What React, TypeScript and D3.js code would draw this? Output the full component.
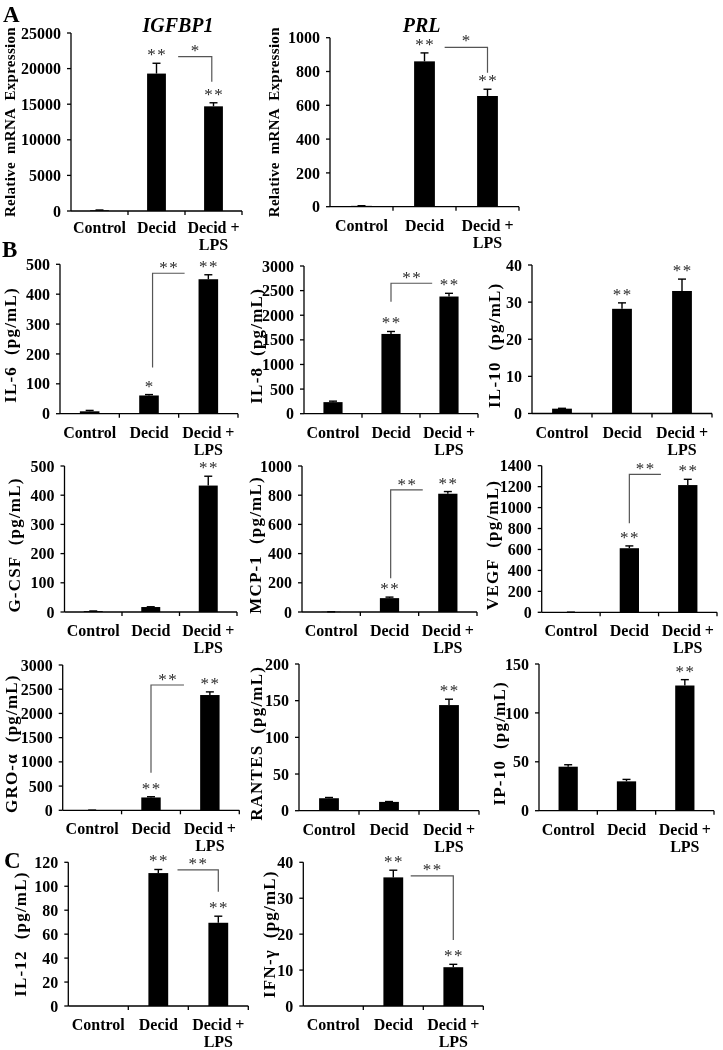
import React from 'react';
import * as d3 from 'd3';

// ---------- DATA ----------
const categories = ['Control', 'Decid', 'Decid +|LPS'];

const igfbp1Values = [100, 19300, 14700];
const igfbp1Errors = [40, 1450, 500];
const igfbp1Ticks = [0, 5000, 10000, 15000, 20000, 25000];
const igfbp1Stars = ['', '**', '**'];

const prlValues = [5, 860, 655];
const prlErrors = [1, 50, 40];
const prlTicks = [0, 200, 400, 600, 800, 1000];
const prlStars = ['', '**', '**'];

const il6Values = [8, 61, 450];
const il6Errors = [3, 3, 15];
const il6Ticks = [0, 100, 200, 300, 400, 500];
const il6Stars = ['', '*', '**'];

const il8Values = [235, 1620, 2380];
const il8Errors = [20, 50, 65];
const il8Ticks = [0, 500, 1000, 1500, 2000, 2500, 3000];
const il8Stars = ['', '**', '**'];

const il10Values = [1.3, 28.2, 33];
const il10Errors = [0.1, 1.6, 3.2];
const il10Ticks = [0, 10, 20, 30, 40];
const il10Stars = ['', '**', '**'];

const gcsfValues = [3, 17, 433];
const gcsfErrors = [0.5, 1, 32];
const gcsfTicks = [0, 100, 200, 300, 400, 500];
const gcsfStars = ['', '', '**'];

const mcp1Values = [1, 95, 810];
const mcp1Errors = [0.5, 7, 15];
const mcp1Ticks = [0, 200, 400, 600, 800, 1000];
const mcp1Stars = ['', '**', '**'];

const vegfValues = [1, 612, 1215];
const vegfErrors = [0.5, 22, 55];
const vegfTicks = [0, 200, 400, 600, 800, 1000, 1200, 1400];
const vegfStars = ['', '**', '**'];

const groValues = [3, 265, 2380];
const groErrors = [1, 15, 65];
const groTicks = [0, 500, 1000, 1500, 2000, 2500, 3000];
const groStars = ['', '**', '**'];

const rantesValues = [17, 12, 144];
const rantesErrors = [1, 0.5, 8];
const rantesTicks = [0, 50, 100, 150, 200];
const rantesStars = ['', '', '**'];

const ip10Values = [45, 30, 128];
const ip10Errors = [2, 2, 6];
const ip10Ticks = [0, 50, 100, 150];
const ip10Stars = ['', '', '**'];

const il12Values = [0, 111, 69.5];
const il12Errors = [0, 3, 5.5];
const il12Ticks = [0, 20, 40, 60, 80, 100, 120];
const il12Stars = ['', '**', '**'];

const ifngValues = [0, 35.8, 10.8];
const ifngErrors = [0, 2, 0.8];
const ifngTicks = [0, 10, 20, 30, 40];
const ifngStars = ['', '**', '**'];

// significance brackets: top = value of horizontal segment, end = value where vertical segment ends
const igfbp1Bracket = { kind: 'drop', top: 21670, end: 18160, label: '*' };
const prlBracket = { kind: 'drop', top: 943, end: 793, label: '*' };
const il6Bracket = { kind: 'rise', top: 470, end: 155, label: '**' };
const il8Bracket = { kind: 'rise', top: 2650, end: 2275, label: '**' };
const mcp1Bracket = { kind: 'rise', top: 836, end: 231, label: '**' };
const vegfBracket = { kind: 'rise', top: 1318, end: 850, label: '**' };
const groBracket = { kind: 'rise', top: 2587, end: 776, label: '**' };
const il12Bracket = { kind: 'drop', top: 113.6, end: 95.4, label: '**' };
const ifngBracket = { kind: 'drop', top: 36.2, end: 18.4, label: '**' };

const panels = [
  { yLabel: 'Relative  mRNA  Expression', title: 'IGFBP1', values: igfbp1Values, errors: igfbp1Errors, ticks: igfbp1Ticks, stars: igfbp1Stars, bracket: igfbp1Bracket },
  { yLabel: 'Relative  mRNA  Expression', title: 'PRL', values: prlValues, errors: prlErrors, ticks: prlTicks, stars: prlStars, bracket: prlBracket },
  { yLabel: 'IL-6  (pg/mL)', values: il6Values, errors: il6Errors, ticks: il6Ticks, stars: il6Stars, bracket: il6Bracket },
  { yLabel: 'IL-8  (pg/mL)', values: il8Values, errors: il8Errors, ticks: il8Ticks, stars: il8Stars, bracket: il8Bracket },
  { yLabel: 'IL-10  (pg/mL)', values: il10Values, errors: il10Errors, ticks: il10Ticks, stars: il10Stars },
  { yLabel: 'G-CSF  (pg/mL)', values: gcsfValues, errors: gcsfErrors, ticks: gcsfTicks, stars: gcsfStars },
  { yLabel: 'MCP-1  (pg/mL)', values: mcp1Values, errors: mcp1Errors, ticks: mcp1Ticks, stars: mcp1Stars, bracket: mcp1Bracket },
  { yLabel: 'VEGF  (pg/mL)', values: vegfValues, errors: vegfErrors, ticks: vegfTicks, stars: vegfStars, bracket: vegfBracket },
  { yLabel: 'GRO-\u03b1  (pg/mL)', values: groValues, errors: groErrors, ticks: groTicks, stars: groStars, bracket: groBracket },
  { yLabel: 'RANTES  (pg/mL)', values: rantesValues, errors: rantesErrors, ticks: rantesTicks, stars: rantesStars },
  { yLabel: 'IP-10  (pg/mL)', values: ip10Values, errors: ip10Errors, ticks: ip10Ticks, stars: ip10Stars },
  { yLabel: 'IL-12  (pg/mL)', values: il12Values, errors: il12Errors, ticks: il12Ticks, stars: il12Stars, bracket: il12Bracket },
  { yLabel: 'IFN-\u03b3  (pg/mL)', values: ifngValues, errors: ifngErrors, ticks: ifngTicks, stars: ifngStars, bracket: ifngBracket },
];

// ---------- LAYOUT ----------
const layouts = [
  { axisX: 71, xEnd: 242, yTop: 33, y0: 211, labelX: 15, labelSize: 15, labelSpacing: 0.3, labelDy: 0, titleX: 178, titleY: 31.7, bx1: 0.38, bx2: -0.03, catDy: 22 },
  { axisX: 330, xEnd: 519, yTop: 37.7, y0: 206.7, labelX: 279, labelSize: 15, labelSpacing: 0.3, labelDy: 0, titleX: 421.7, titleY: 31.7, bx1: 0.32, bx2: 0, catDy: 24 },
  { axisX: 60, xEnd: 238, yTop: 264.3, y0: 413.7, labelX: 16, labelSize: 17, labelSpacing: 1.2, labelDy: 6, bx1: 0.06, bx2: -0.4, catDy: 24 },
  { axisX: 304, xEnd: 478, yTop: 266, y0: 413.7, labelX: 262, labelSize: 17, labelSpacing: 1.2, labelDy: 6, bx1: 0, bx2: -0.29, catDy: 24 },
  { axisX: 532, xEnd: 712, yTop: 265, y0: 413.5, labelX: 500, labelSize: 17, labelSpacing: 1.2, labelDy: 6, catDy: 24 },
  { axisX: 64.5, xEnd: 237, yTop: 466, y0: 612, labelX: 20, labelSize: 17, labelSpacing: 1.2, labelDy: 6, catDy: 24 },
  { axisX: 302, xEnd: 477, yTop: 466, y0: 612, labelX: 261, labelSize: 17, labelSpacing: 1.2, labelDy: 6, bx1: 0.02, bx2: -0.43, catDy: 24 },
  { axisX: 541.7, xEnd: 717, yTop: 465.7, y0: 612.3, labelX: 498, labelSize: 17, labelSpacing: 1.2, labelDy: 6, bx1: 0, bx2: -0.46, catDy: 24 },
  { axisX: 62.7, xEnd: 239.3, yTop: 665, y0: 810.3, labelX: 17, labelSize: 17, labelSpacing: 1.2, labelDy: 6, bx1: 0, bx2: -0.44, catDy: 24 },
  { axisX: 299, xEnd: 479, yTop: 664, y0: 810.7, labelX: 262, labelSize: 17, labelSpacing: 1.2, labelDy: 6, catDy: 24 },
  { axisX: 539, xEnd: 714, yTop: 664, y0: 810.7, labelX: 505, labelSize: 17, labelSpacing: 1.2, labelDy: 6, catDy: 24 },
  { axisX: 68.3, xEnd: 248.3, yTop: 862.3, y0: 1006, labelX: 26, labelSize: 17, labelSpacing: 1.2, labelDy: 0, bx1: 0.32, bx2: 0, catDy: 24 },
  { axisX: 303.3, xEnd: 483.3, yTop: 862.3, y0: 1006, labelX: 275, labelSize: 17, labelSpacing: 1.2, labelDy: 0, bx1: 0.29, bx2: 0, catDy: 24 },
];

const panelLetters = [
  { text: 'A', x: 3, y: 22 },
  { text: 'B', x: 2, y: 257 },
  { text: 'C', x: 4, y: 868 },
];

const FONT = "'Liberation Serif', 'Times New Roman', serif";
const STAR_COLOR = '#2a2a2a';
const STAR_SIZE = 17;

function Panel({ p, L }: { p: any; L: any }) {
  const x = d3.scaleBand().domain(categories).range([L.axisX, L.xEnd]).paddingInner(0).paddingOuter(0);
  const y = d3.scaleLinear().domain([0, d3.max(p.ticks) as number]).range([L.y0, L.yTop]);
  const bw = x.bandwidth();
  const barW = bw * 0.33;
  const cx = (c: string) => (x(c) as number) + bw / 2;
  const yMid = (L.y0 + L.yTop) / 2 + L.labelDy;

  let bracketEl = null;
  if (p.bracket) {
    const b = p.bracket;
    const cD = cx(categories[1]);
    const cL = cx(categories[2]);
    const x1 = cD + L.bx1 * bw;
    const x2 = cL + L.bx2 * bw;
    const yt = y(b.top);
    const ye = y(b.end);
    const d = b.kind === 'drop' ? `M${x1},${yt}H${x2}V${ye}` : `M${x1},${ye}V${yt}H${x2}`;
    bracketEl = (
      <g>
        <path d={d} fill="none" stroke="#555" strokeWidth={1.2} />
        <text x={(x1 + x2) / 2 + 0.7} y={yt - (b.kind === 'drop' ? 1 : 0)} textAnchor="middle" fontSize={STAR_SIZE} fill={STAR_COLOR} letterSpacing={1.5} fontFamily={FONT}>{b.label}</text>
      </g>
    );
  }

  return (
    <g fontFamily={FONT}>
      {categories.map((c, i) => {
        const v = p.values[i];
        const e = p.errors[i];
        const c0 = cx(c);
        return (
          <g key={c}>
            <rect x={c0 - barW / 2} y={y(v)} width={barW} height={L.y0 - y(v)} fill="#000" />
            {e > 0 && (
              <g stroke="#000" strokeWidth={1.4}>
                <line x1={c0} x2={c0} y1={y(v)} y2={y(v + e)} />
                <line x1={c0 - 4} x2={c0 + 4} y1={y(v + e)} y2={y(v + e)} />
              </g>
            )}
            {p.stars[i] && (
              <text x={c0 + 0.7} y={y(v + e) - 3} textAnchor="middle" fontSize={STAR_SIZE} fill={STAR_COLOR} letterSpacing={1.5}>{p.stars[i]}</text>
            )}
          </g>
        );
      })}
      {bracketEl}
      <line x1={L.axisX} x2={L.axisX} y1={L.yTop} y2={L.y0} stroke="#000" strokeWidth={1.3} />
      {p.ticks.map((t: number) => (
        <g key={t}>
          <line x1={L.axisX - 4} x2={L.axisX} y1={y(t)} y2={y(t)} stroke="#000" strokeWidth={1.3} />
          <text x={L.axisX - 10} y={y(t)} dy="0.35em" textAnchor="end" fontSize={16} fontWeight="bold" fill="#000">{String(t)}</text>
        </g>
      ))}
      <line x1={L.axisX} x2={L.xEnd} y1={L.y0} y2={L.y0} stroke="#000" strokeWidth={1.3} />
      {categories.map((c) => (
        <line key={'t' + c} x1={(x(c) as number) + bw} x2={(x(c) as number) + bw} y1={L.y0} y2={L.y0 + 4} stroke="#000" strokeWidth={1.3} />
      ))}
      {categories.map((c) => {
        const lines = c.split('|');
        return (
          <text key={'l' + c} x={cx(c)} y={L.y0 + L.catDy} textAnchor="middle" fontSize={16} fontWeight="bold" fill="#000">
            {lines.map((ln, k) => (
              <tspan key={k} x={cx(c)} dy={k === 0 ? 0 : 17}>{ln}</tspan>
            ))}
          </text>
        );
      })}
      <text
        transform={`translate(${L.labelX},${yMid}) rotate(-90)`}
        textAnchor="middle"
        fontSize={L.labelSize}
        fontWeight="bold"
        letterSpacing={L.labelSpacing}
        style={{ whiteSpace: 'pre' }}
        fill="#000"
      >
        {p.yLabel}
      </text>
      {p.title && (
        <text x={L.titleX} y={L.titleY} textAnchor="middle" fontSize={20} fontWeight="bold" fontStyle="italic" fill="#000">{p.title}</text>
      )}
    </g>
  );
}

export default function App() {
  return (
    <svg width={723} height={1050} viewBox="0 0 723 1050" style={{ position: 'absolute', left: 0, top: 0, background: '#fff', willChange: 'transform' }}>
      <rect x={0} y={0} width={723} height={1050} fill="#fff" />
      {panels.map((p, i) => (
        <Panel key={i} p={p} L={layouts[i]} />
      ))}
      {panelLetters.map((l) => (
        <text key={l.text} x={l.x} y={l.y} fontSize={23} fontWeight="bold" fontFamily={FONT} fill="#000">{l.text}</text>
      ))}
    </svg>
  );
}
